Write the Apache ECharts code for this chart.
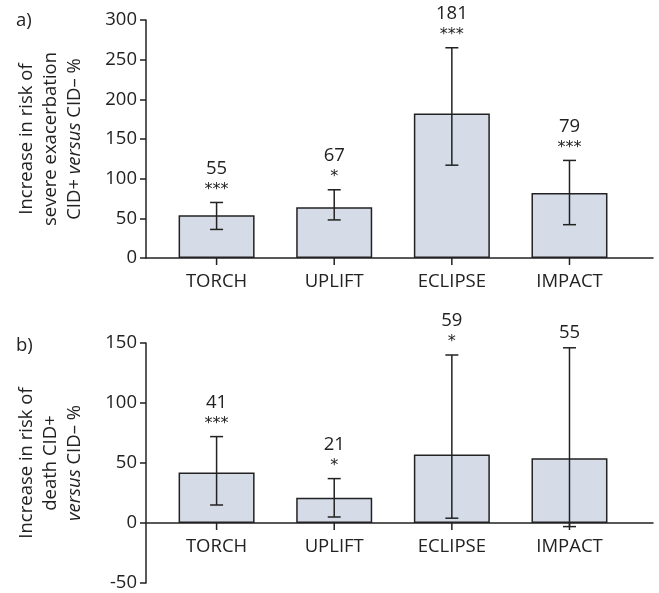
<!DOCTYPE html>
<html><head><meta charset="utf-8">
<script src="https://cdn.jsdelivr.net/npm/echarts@6/dist/echarts.min.js"></script>
<style>html,body{margin:0;padding:0;background:#fff}#c{width:659px;height:593px}</style>
</head><body><div id="c"></div>
<script>
const categories = ['TORCH', 'UPLIFT', 'ECLIPSE', 'IMPACT'];
// panel a) severe exacerbation
const exacBar = [54, 64, 182, 82];
const exacLow = [36, 48, 117, 42];
const exacHigh = [70, 86, 265, 123];
const exacLabel = ['55', '67', '181', '79'];
const exacStars = ['***', '*', '***', '***'];
// panel b) death
const deathBar = [42, 21, 57, 54];
const deathLow = [15, 5, 4, -3];
const deathHigh = [72, 37, 140, 146];
const deathLabel = ['41', '21', '59', '55'];
const deathStars = ['***', '*', '*', ''];

const FONT = 'Open Sans';
const TXT = '#222';
const FS = 18.5;

function errRender(labels, stars) {
  return function (params, api) {
    const i = api.value(0);
    const lo = api.coord([i, api.value(1)]);
    const hi = api.coord([i, api.value(2)]);
    const half = 6.5;
    const ls = { stroke: '#222', lineWidth: 1.5 };
    const ch = [
      { type: 'line', shape: { x1: hi[0], y1: hi[1], x2: lo[0], y2: lo[1] }, style: ls },
      { type: 'line', shape: { x1: hi[0] - half, y1: hi[1], x2: hi[0] + half, y2: hi[1] }, style: ls },
      { type: 'line', shape: { x1: lo[0] - half, y1: lo[1], x2: lo[0] + half, y2: lo[1] }, style: ls }
    ];
    const s = stars[params.dataIndex];
    if (s) ch.push({ type: 'text', style: { text: s, x: hi[0], y: hi[1] - 13, align: 'center', verticalAlign: 'middle', fontSize: 16, fontFamily: 'DejaVu Sans', fill: TXT } });
    ch.push({ type: 'text', style: { text: labels[params.dataIndex], x: hi[0], y: hi[1] - (s ? 34 : 15), align: 'center', verticalAlign: 'middle', fontSize: FS, fontFamily: FONT, fill: TXT } });
    return { type: 'group', children: ch };
  };
}

function tickRender(params, api) {
  const p = api.coord([api.value(0), api.value(1)]);
  return { type: 'line', shape: { x1: p[0], y1: p[1], x2: p[0], y2: p[1] + 7 }, style: { stroke: '#222', lineWidth: 1.5 } };
}

function xAx(idx, offset) {
  return {
    type: 'value', gridIndex: idx, min: -0.6, max: 3.71, offset: offset,
    splitLine: { show: false },
    axisLine: { onZero: false, lineStyle: { color: '#222', width: 1.5 } },
    axisTick: { show: false },
    axisLabel: { customValues: [0, 1, 2, 3], formatter: v => categories[Math.round(v)], fontSize: FS, fontFamily: FONT, color: TXT, margin: 14 }
  };
}
function yAx(idx, min, max, name) {
  return {
    type: 'value', gridIndex: idx, min: min, max: max, interval: 50,
    splitLine: { show: false },
    axisLine: { show: true, onZero: false, lineStyle: { color: '#222', width: 1.5 } },
    axisTick: { show: true, length: 6, lineStyle: { color: '#222', width: 1.5 } },
    axisLabel: { fontSize: FS, fontFamily: FONT, color: TXT, margin: 9 },
    name: name, nameLocation: 'middle', nameGap: 59, nameRotate: 90,
    nameTextStyle: { fontSize: FS, lineHeight: 24, align: 'center', fontFamily: FONT, color: TXT, rich: { i: { fontStyle: 'italic', fontSize: FS, fontFamily: FONT, color: TXT } } }
  };
}

const chart = echarts.init(document.getElementById('c'), null, { renderer: 'canvas' });
chart.setOption({
  animation: false,
  backgroundColor: '#fff',
  title: [
    { text: 'a)', left: 11, top: 6, textStyle: { fontSize: FS, fontWeight: 'normal', fontFamily: FONT, color: TXT } },
    { text: 'b)', left: 11, top: 331, textStyle: { fontSize: FS, fontWeight: 'normal', fontFamily: FONT, color: TXT } }
  ],
  grid: [
    { left: 146, top: 20, width: 507, height: 238, outerBoundsMode: 'none' },
    { left: 146, top: 343, width: 507, height: 240, outerBoundsMode: 'none' }
  ],
  xAxis: [xAx(0, 0), xAx(1, -60)],
  yAxis: [
    yAx(0, 0, 300, 'Increase in risk of\nsevere exacerbation\nCID+ {i|versus} CID– %'),
    yAx(1, -50, 150, 'Increase in risk of\ndeath CID+\n{i|versus} CID– %')
  ],
  series: [
    { type: 'bar', xAxisIndex: 0, yAxisIndex: 0, barWidth: 76, data: exacBar.map((v, i) => [i, v]),
      itemStyle: { color: '#d5dce8', borderColor: '#222', borderWidth: 1.5 } },
    { type: 'custom', xAxisIndex: 0, yAxisIndex: 0, clip: false, z: 5,
      data: exacBar.map((v, i) => [i, exacLow[i], exacHigh[i]]), renderItem: errRender(exacLabel, exacStars) },
    { type: 'custom', xAxisIndex: 0, yAxisIndex: 0, clip: false, z: 10,
      data: categories.map((c, i) => [i, 0]), renderItem: tickRender },
    { type: 'bar', xAxisIndex: 1, yAxisIndex: 1, barWidth: 76, data: deathBar.map((v, i) => [i, v]),
      itemStyle: { color: '#d5dce8', borderColor: '#222', borderWidth: 1.5 } },
    { type: 'custom', xAxisIndex: 1, yAxisIndex: 1, clip: false, z: 5,
      data: deathBar.map((v, i) => [i, deathLow[i], deathHigh[i]]), renderItem: errRender(deathLabel, deathStars) },
    { type: 'custom', xAxisIndex: 1, yAxisIndex: 1, clip: false, z: 10,
      data: categories.map((c, i) => [i, 0]), renderItem: tickRender }
  ]
});
</script></body></html>
